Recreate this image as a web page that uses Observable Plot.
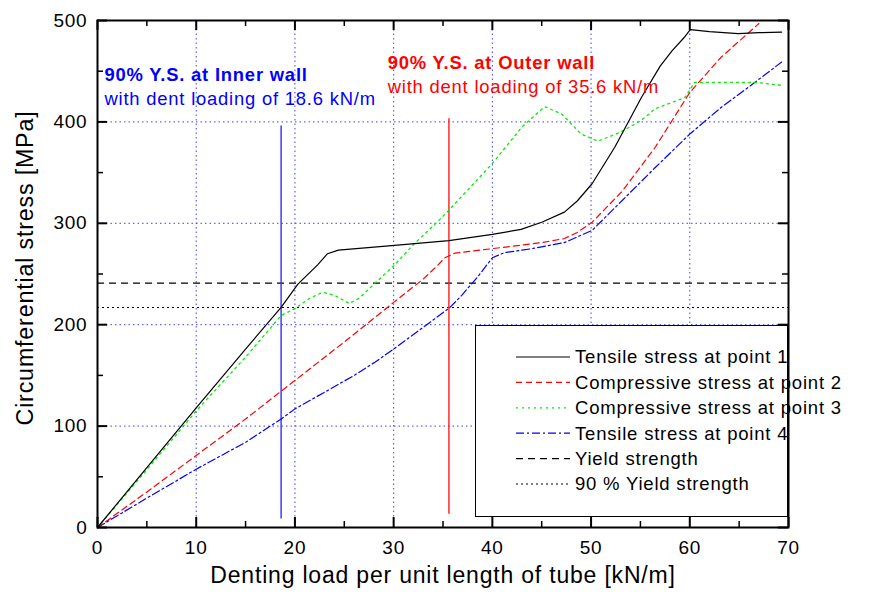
<!DOCTYPE html>
<html>
<head>
<meta charset="utf-8">
<script src="https://cdn.jsdelivr.net/npm/d3@7"></script>
<script src="https://cdn.jsdelivr.net/npm/@observablehq/plot@0.6"></script>
<style>
  html, body { margin: 0; padding: 0; background: white; }
  #wrap { position: relative; width: 875px; height: 605px; font-family: "Liberation Sans", Arial, sans-serif; }
  #wrap text { letter-spacing: 0.8px; }
  #legend { position: absolute; left: 475px; top: 325px; width: 311px; height: 190px; background: white; border: 1.5px solid black; overflow: visible; }
  #legend svg { overflow: visible; }
</style>
</head>
<body>
<div id="wrap"><div id="chart"></div><div id="legend"></div></div>
<script>
// ---- data ----
const xTicks = [0, 10, 20, 30, 40, 50, 60, 70];
const xMinor = [5, 15, 25, 35, 45, 55, 65];
const yTicks = [0, 100, 200, 300, 400, 500];
const yMinor = [50, 150, 250, 350, 450];
const xGrid = [10, 20, 30, 40, 50, 60];
const yGrid = [100, 200, 300, 400];

const load1 = [0, 5, 10, 15, 18.6, 20.3, 22.3, 23.3, 24.4, 29.8, 35.6, 40, 42.9, 45, 47.3, 48.6, 50.1, 52.4, 55.1, 57, 58.2, 59.5, 60.05, 62, 64.9, 67, 69.3];
const stress1 = [0, 59, 118, 176, 217, 240, 259, 270, 273.5, 278, 283, 289, 294, 301, 311, 322, 339, 375, 424, 455, 470, 484, 491, 489, 487, 488, 488.5];

const load2 = [0, 5, 10, 15, 20, 25, 30, 33, 34.5, 35.2, 36.2, 40, 45, 47.3, 48.6, 50.1, 53.1, 56.5, 60, 63.2, 67];
const stress2 = [0, 35, 71, 107, 145, 183, 222, 245, 259, 266, 270.5, 275, 281, 285, 291, 301, 331, 375, 429, 464, 497];

const load3 = [0, 5, 10, 15, 18.6, 20, 21.5, 22.8, 24, 25.5, 26.5, 28, 30, 32.1, 34.5, 35.5, 38, 40, 43, 45.3, 47, 49, 50.7, 53, 55, 56.5, 59.5, 60.5, 66.6, 69.3];
const stress3 = [0, 57, 115, 168, 209, 216, 226, 232, 229, 221, 226, 240, 258, 280, 302, 312, 338, 359, 395, 415, 408, 388, 381, 390, 401, 413, 424, 439, 439, 436];

const load4 = [0, 5, 10, 15, 18.6, 20, 23.3, 26, 28.1, 30, 33.5, 35.7, 36.9, 38.5, 40, 41.2, 44, 47.3, 50.1, 53.1, 56.5, 60, 63.2, 66.6, 69.3];
const stress4 = [0, 29, 57.5, 84, 107, 117, 135, 150, 163, 176, 201, 217, 229, 247, 266, 271, 275, 281, 293, 322, 355, 388, 414.5, 439, 459];

const yieldStrength = 241;
const yield90 = 217;

const innerLoad = 18.6, innerLineY = [8.5, 396];
const outerLoad = 35.6, outerLineY = [13, 403];

const innerTitle = "90% Y.S. at Inner wall";
const innerSub = "with dent loading of 18.6 kN/m";
const outerTitle = "90% Y.S. at Outer wall";
const outerSub = "with dent loading of 35.6 kN/m";
const innerTextPos = {x: 0.7, y1: 446, y2: 422};
const outerTextPos = {x: 29.4, y1: 458, y2: 434};

const xTitle = "Denting load per unit length of tube [kN/m]";
const yTitle = "Circumferential stress [MPa]";

const seriesNames = ["Tensile stress at point 1", "Compressive stress at point 2", "Compressive stress at point 3", "Tensile stress at point 4", "Yield strength", "90 % Yield strength"];
const seriesColors = ["#000000", "#ff0000", "#00ee00", "#0000ff", "#000000", "#000000"];
const seriesDash = ["none", "6,4", "2,4", "8,3,2,3", "7,5", "2,3"];

// ---- layout ----
const W = 875, H = 605, mL = 97, mR = 87, mT = 20, mB = 78;
const iW = W - mL - mR, iH = H - mT - mB;

const toRows = (xs, ys) => xs.map((x, i) => ({x, y: ys[i]}));
const s1 = toRows(load1, stress1), s2 = toRows(load2, stress2), s3 = toRows(load3, stress3), s4 = toRows(load4, stress4);

const gridStyle = {stroke: "#4040ff", strokeDasharray: "1.5,3", strokeOpacity: 1, strokeWidth: 1};

const plot = Plot.plot({
  width: W, height: H,
  marginLeft: mL, marginRight: mR, marginTop: mT, marginBottom: mB,
  style: {fontFamily: "'Liberation Sans', Arial, sans-serif", fontSize: "19px", background: "white", color: "black"},
  x: {domain: [0, 70]},
  y: {domain: [0, 500]},
  marks: [
    Plot.ruleX(xGrid, gridStyle),
    Plot.ruleY(yGrid, gridStyle),
    Plot.ruleY([yieldStrength], {stroke: "black", strokeDasharray: seriesDash[4], strokeWidth: 1.1}),
    Plot.ruleY([yield90], {stroke: "black", strokeDasharray: seriesDash[5], strokeWidth: 1.1}),
    Plot.ruleX([innerLoad], {y1: innerLineY[0], y2: innerLineY[1], stroke: "#3030ff", strokeWidth: 1.4}),
    Plot.ruleX([outerLoad], {y1: outerLineY[0], y2: outerLineY[1], stroke: "#ff1a1a", strokeWidth: 1.4}),
    Plot.line(s4, {x: "x", y: "y", stroke: seriesColors[3], strokeDasharray: seriesDash[3], strokeWidth: 1.2}),
    Plot.line(s3, {x: "x", y: "y", stroke: seriesColors[2], strokeDasharray: seriesDash[2], strokeWidth: 1.3}),
    Plot.line(s2, {x: "x", y: "y", stroke: seriesColors[1], strokeDasharray: seriesDash[1], strokeWidth: 1.2}),
    Plot.line(s1, {x: "x", y: "y", stroke: seriesColors[0], strokeWidth: 1.2}),
    // annotations
    Plot.text([innerTitle], {x: innerTextPos.x, y: innerTextPos.y1, text: d => d, textAnchor: "start", fill: "#0000ff", fontWeight: "bold", fontSize: 18.4}),
    Plot.text([innerSub], {x: innerTextPos.x, y: innerTextPos.y2, text: d => d, textAnchor: "start", fill: "#0000ff", fontSize: 18.4}),
    Plot.text([outerTitle], {x: outerTextPos.x, y: outerTextPos.y1, text: d => d, textAnchor: "start", fill: "#ff0000", fontWeight: "bold", fontSize: 18.4}),
    Plot.text([outerSub], {x: outerTextPos.x, y: outerTextPos.y2, text: d => d, textAnchor: "start", fill: "#ff0000", fontSize: 18.4}),
    // inward ticks
    Plot.tickX(xTicks, {x: d => d, insetTop: iH - 10, strokeWidth: 2}),
    Plot.tickX(xMinor, {x: d => d, insetTop: iH - 6, strokeWidth: 1.5}),
    Plot.tickX(xTicks, {x: d => d, insetBottom: iH - 10, strokeWidth: 2}),
    Plot.tickX(xMinor, {x: d => d, insetBottom: iH - 6, strokeWidth: 1.5}),
    Plot.tickY(yTicks, {y: d => d, insetRight: iW - 10, strokeWidth: 2}),
    Plot.tickY(yMinor, {y: d => d, insetRight: iW - 6, strokeWidth: 1.5}),
    Plot.tickY(yTicks, {y: d => d, insetLeft: iW - 10, strokeWidth: 2}),
    Plot.tickY(yMinor, {y: d => d, insetLeft: iW - 6, strokeWidth: 1.5}),
    Plot.frame({stroke: "black", strokeWidth: 2}),
    Plot.axisX({ticks: xTicks, tickSize: 0, tickPadding: 13, label: null, fontSize: 19}),
    Plot.axisY({ticks: yTicks, tickSize: 0, tickPadding: 10, label: null, fontSize: 19}),
    Plot.text([xTitle], {frameAnchor: "bottom", dy: 55, text: d => d, fontSize: 23}),
    Plot.text([yTitle], {frameAnchor: "left", textAnchor: "middle", dx: -72, dy: -6, rotate: -90, text: d => d, fontSize: 23.3})
  ]
});
document.getElementById("chart").appendChild(plot);

// ---- legend ----
const lg = d3.select("#legend").append("svg").attr("width", 311).attr("height", 190);
seriesNames.forEach((name, i) => {
  const cy = 31 + i * 25.4;
  lg.append("line").attr("x1", 40).attr("x2", 94).attr("y1", cy).attr("y2", cy)
    .attr("stroke", seriesColors[i]).attr("stroke-width", 1.2)
    .attr("stroke-dasharray", seriesDash[i] === "none" ? null : seriesDash[i]);
  lg.append("text").attr("x", 99).attr("y", cy).attr("dy", "0.35em")
    .attr("font-size", 18.5).attr("font-family", "'Liberation Sans', Arial, sans-serif")
    .text(name);
});
</script>
</body>
</html>
